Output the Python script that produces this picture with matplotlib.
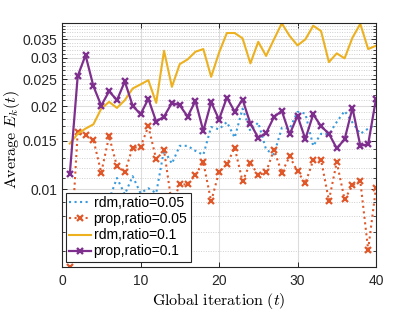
import matplotlib
matplotlib.use("Agg")
import matplotlib.pyplot as plt
import matplotlib.ticker as mticker
import numpy as np

plt.rcParams['font.family'] = ['Liberation Sans', 'DejaVu Sans']
plt.rcParams['mathtext.fontset'] = 'cm'

t = list(range(1, 41))

rdm_005 = [0.0072, 0.0078, 0.0083, 0.0080, 0.0086, 0.0092, 0.0110, 0.0096, 0.01117, 0.0097,
           0.0101, 0.0097, 0.01391, 0.01240, 0.01438, 0.01438, 0.01379, 0.01334, 0.01683, 0.0165,
           0.01754, 0.01539, 0.0196, 0.01627, 0.01746, 0.01393, 0.01339, 0.0167, 0.0166, 0.01908,
           0.01882, 0.01436, 0.0159, 0.01583, 0.01754, 0.01923, 0.01746, 0.0159, 0.0166, 0.0172]

prop_005 = [0.00523, 0.01614, 0.0157, 0.01514, 0.0115, 0.01557, 0.01212, 0.01156, 0.01416, 0.01423,
            0.01692, 0.01285, 0.01385, 0.0088, 0.01043, 0.01043, 0.0113, 0.01256, 0.00905, 0.01156,
            0.01232, 0.01416, 0.01069, 0.0125, 0.01124, 0.01156, 0.01393, 0.0115, 0.01317, 0.01162,
            0.01054, 0.01274, 0.0128, 0.00912, 0.01256, 0.0092, 0.01034, 0.01072, 0.00606, 0.01014]

rdm_01 = [0.01465, 0.0159, 0.0166, 0.0172, 0.0196, 0.02074, 0.01972, 0.02103, 0.02318, 0.02398,
          0.02485, 0.02056, 0.03175, 0.0235, 0.0284, 0.02954, 0.03148, 0.0322, 0.02555, 0.0312,
          0.0368, 0.0368, 0.0352, 0.02857, 0.0342, 0.0304, 0.0349, 0.0399, 0.0359, 0.0332,
          0.0349, 0.0391, 0.0374, 0.02888, 0.03106, 0.0298, 0.0354, 0.0397, 0.0322, 0.0331]

prop_01 = [0.0114, 0.0257, 0.0306, 0.02364, 0.0201, 0.02267, 0.02103, 0.02458, 0.0201, 0.0187,
           0.02126, 0.0176, 0.01835, 0.02056, 0.02017, 0.01835, 0.0209, 0.01627, 0.0207, 0.0179,
           0.0215, 0.01913, 0.02115, 0.0173, 0.01539, 0.0160, 0.01829, 0.01923, 0.01584, 0.01845,
           0.01522, 0.0187, 0.01692, 0.01592, 0.01408, 0.01518, 0.01972, 0.0144, 0.01456, 0.02126]

labels = ['rdm,ratio=0.05', 'prop,ratio=0.05', 'rdm,ratio=0.1', 'prop,ratio=0.1']
ytick_vals = [0.01, 0.015, 0.02, 0.025, 0.03, 0.035]
ytick_labels = ['0.01', '0.015', '0.02', '0.025', '0.03', '0.035']
xtick_vals = [0, 10, 20, 30, 40]

fig = plt.figure(figsize=(4.15, 3.12), dpi=100)
ax = fig.add_axes([62/415, 1-267.3/312, (376-62)/415, (267.3-23.3)/312])

ax.plot(t, rdm_005, color='#3A9BDC', ls=':', lw=1.5, label=labels[0])
ax.plot(t, prop_005, color='#E0582A', ls=':', lw=1.5, marker='x', ms=3.8, mew=1.6, label=labels[1])
ax.plot(t, rdm_01, color='#EDB120', ls='-', lw=1.5, label=labels[2])
ax.plot(t, prop_01, color='#7E2F8E', ls='-', lw=1.6, marker='x', ms=3.8, mew=1.7, label=labels[3])

ax.set_yscale('log')
allv = rdm_005 + prop_005 + rdm_01 + prop_01
ax.set_ylim(min(allv), max(allv))
ax.set_xlim(0, 40)

ax.yaxis.set_major_locator(mticker.FixedLocator(ytick_vals))
ax.yaxis.set_major_formatter(mticker.FixedFormatter(ytick_labels))
ax.yaxis.set_minor_locator(mticker.FixedLocator([round(v, 3) for v in np.arange(0.006, 0.0405, 0.001)]))
ax.yaxis.set_minor_formatter(mticker.NullFormatter())
ax.xaxis.set_major_locator(mticker.FixedLocator(xtick_vals))

ax.grid(True, which='major', axis='both', color='#dcdcdc', lw=0.8, ls='-')
ax.grid(True, which='minor', axis='y', color='#cfcfcf', lw=0.7, ls=(0, (1, 1.5)))
ax.set_axisbelow(True)

ax.tick_params(which='both', direction='in', top=True, right=True, colors='#262626',
               labelcolor='#262626', labelsize=10)
ax.tick_params(which='major', length=3.5, width=0.7)
ax.tick_params(which='minor', length=2.2, width=0.6)
ax.tick_params(axis='x', pad=5)
for s in ax.spines.values():
    s.set_color('#262626')
    s.set_linewidth(0.8)

ax.set_xlabel(r'$\mathrm{Global\ iteration}\ (t)$', fontsize=11.5, labelpad=2)
ax.set_ylabel(r'$\mathrm{Average}\ E_k(t)$', fontsize=11.5)
ax.yaxis.set_label_coords(-0.127, 0.525)

leg = ax.legend(loc='lower left', bbox_to_anchor=(0.012, 0.022), fontsize=10,
                frameon=True, fancybox=False, edgecolor='#262626', framealpha=1,
                handlelength=1.6, handletextpad=0.15, labelspacing=0.15,
                borderpad=0.25, borderaxespad=0)
leg.get_frame().set_linewidth(0.8)

fig.savefig('out.png', dpi=100)
